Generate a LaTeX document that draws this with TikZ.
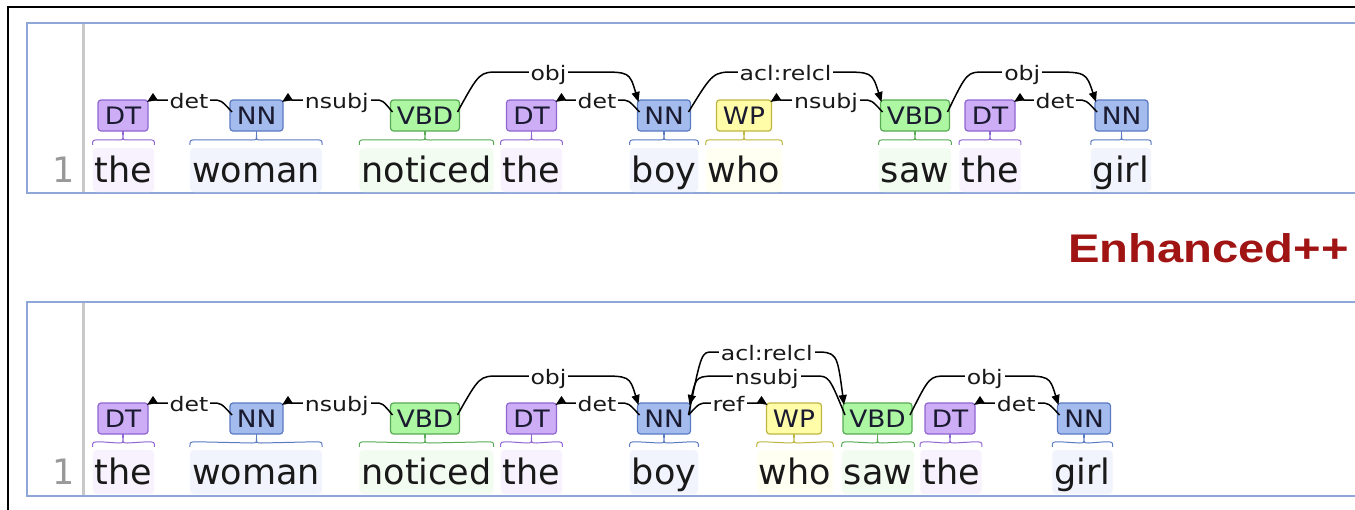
\documentclass[tikz,border=0pt]{standalone}
\usepackage{fontspec}
\setmainfont{DejaVu Sans}
\newfontfamily\titlefam{Liberation Sans}
\usepackage{graphicx}
\usetikzlibrary{calc,arrows.meta}

% part-of-speech colours
\definecolor{dtfill}{HTML}{CCADF6}\definecolor{dtline}{HTML}{9066D2}\definecolor{dtbg}{HTML}{F7F2FD}
\definecolor{nnfill}{HTML}{A4BCED}\definecolor{nnline}{HTML}{5A7AC2}\definecolor{nnbg}{HTML}{F1F4FC}
\definecolor{vbfill}{HTML}{ADF6A2}\definecolor{vbline}{HTML}{58AA55}\definecolor{vbbg}{HTML}{F3FCF1}
\definecolor{wpfill}{HTML}{FFFDA8}\definecolor{wpline}{HTML}{BDB640}\definecolor{wpbg}{HTML}{FFFFF2}
\definecolor{tagtext}{HTML}{1A1A30}
\definecolor{panelline}{HTML}{8EA6D8}
\definecolor{gutter}{HTML}{C8C8C8}
\definecolor{titlered}{HTML}{A01414}

\newcommand{\wordfont}{\fontsize{35}{40}\selectfont}
\newcommand{\tagfont}{\fontsize{24}{27}\selectfont}
\newcommand{\labfont}{\fontsize{20}{23}\selectfont}
\newcommand{\tg}[1]{\scalebox{1.1}[1]{#1}}
\newcommand{\lbl}[1]{\scalebox{1.18}[1]{#1}}

% dependency arc, dependent to the right of the head
% #1 head, #2 dependent, #3 level, #4 head bend, #5 dependent bend, #6 label, #7 label name
\newcommand{\arcR}[7]{%
  \draw[deparc] ($(#1.north east)+(-2,12)$)
     .. controls ($(#1.north east)+({0.5*#4},#3)$) .. ($(#1.north east)+(#4,#3)$)
     -- ($(#2.north west)+(-#5,#3)$)
     .. controls ($(#2.north west)+({-0.2*#5},#3)$) .. ($(#2.north west)+(1,2)$);
  \node[deplab] (#7) at ($(#1.north east)!0.5!(#2.north west)+(0,#3+8)$) {\lbl{#6}};
}
% dependency arc, dependent to the left of the head
\newcommand{\arcL}[7]{%
  \draw[deparc] ($(#1.north west)+(2,12)$)
     .. controls ($(#1.north west)+({-0.5*#4},#3)$) .. ($(#1.north west)+(-#4,#3)$)
     -- ($(#2.north east)+(#5,#3)$)
     .. controls ($(#2.north east)+({0.2*#5},#3)$) .. ($(#2.north east)+(-1,2)$);
  \node[deplab] (#7) at ($(#2.north east)!0.5!(#1.north west)+(0,#3+8)$) {\lbl{#6}};
}
% curly bracket joining a word to its tag
\newcommand{\wbrace}[3]{%
  \draw[#3, line width=1pt]
     ($(#1.north west)+(0,-3)$) .. controls ($(#1.north west)+(0,-8)$) .. ($(#1.north west)+(8,-8)$)
     -- ($(#2.south)+(-5,9)$) .. controls ($(#2.south)+(0,9)$) .. ($(#2.south)+(0,4)$)
     .. controls ($(#2.south)+(0,9)$) .. ($(#2.south)+(5,9)$)
     -- ($(#1.north east)+(-8,-8)$) .. controls ($(#1.north east)+(0,-8)$) .. ($(#1.north east)+(0,-3)$);
  \draw[#3, line width=1.2pt] ($(#2.south)+(0,4)$) -- (#2.south);
}

\tikzset{
  tagbox/.style={rectangle, rounded corners=3pt, minimum height=31pt, inner sep=0pt,
    outer sep=0pt, line width=1.2pt, font=\tagfont, text=tagtext},
  tagDT/.style={tagbox, fill=dtfill, draw=dtline, minimum width=50pt},
  tagNN/.style={tagbox, fill=nnfill, draw=nnline, minimum width=53pt},
  tagVB/.style={tagbox, fill=vbfill, draw=vbline, minimum width=69pt},
  tagWP/.style={tagbox, fill=wpfill, draw=wpline, minimum width=55pt},
  word/.style={anchor=base, font=\wordfont, text=black!90, inner xsep=2pt, inner ysep=3pt,
    text height=31pt, text depth=7pt, rounded corners=4pt},
  wDT/.style={word, fill=dtbg}, wNN/.style={word, fill=nnbg},
  wVB/.style={word, fill=vbbg}, wWP/.style={word, fill=wpbg},
  deparc/.style={black, line width=1.5pt, -{Triangle[length=10pt,width=8pt]}},
  deplab/.style={anchor=base, font=\labfont, text=black!90, fill=white, inner xsep=2pt, inner ysep=1pt},
  linenum/.style={anchor=base east, font=\wordfont, text=black!40, inner sep=0pt},
  panel/.style={draw=panelline, line width=1.5pt, fill=white},
}

\begin{document}
\begin{tikzpicture}[x=1pt, y=-1pt]
\useasboundingbox (0,0) rectangle (1355,509);
\clip (0,0) rectangle (1355,509);
\fill[white] (0,0) rectangle (1355,509);

% window frame
\draw[black, line width=2pt] (8,520) -- (8,7) -- (1370,7);

% sentence panels with line-number gutters
\draw[panel] (27,23) rectangle (1375,193);
\draw[gutter, line width=3pt] (83,24) -- (83,192);
\draw[panel] (27,302) rectangle (1375,496);
\draw[gutter, line width=3pt] (83,303) -- (83,495);

\node[linenum] (n1) at (75,182) {1};
\node[linenum] (n2) at (75,484) {1};

% heading
\node[anchor=base west, inner sep=0pt, text=titlered,
      font=\titlefam\fontsize{40}{48}\selectfont\bfseries] (title) at (1068,262) {\scalebox{1.18}[1]{Enhanced++}};

% ---------- basic dependencies ----------
\node[wDT] (u1) at (123.5,182) {the};
\node[wNN] (u2) at (256,182) {woman};
\node[wVB] (u3) at (426.5,182) {noticed};
\node[wDT] (u4) at (531.5,182) {the};
\node[wNN] (u5) at (664,182) {boy};
\node[wWP] (u6) at (744,182) {who};
\node[wVB] (u7) at (915,182) {saw};
\node[wDT] (u8) at (990,182) {the};
\node[wNN] (u9) at (1121,182) {girl};

\node[tagDT] (a1) at (123,115.5) {\tg{DT}};
\node[tagNN] (a2) at (256.5,115.5) {\tg{NN}};
\node[tagVB] (a3) at (425,115.5) {\tg{VBD}};
\node[tagDT] (a4) at (531.5,115.5) {\tg{DT}};
\node[tagNN] (a5) at (664,115.5) {\tg{NN}};
\node[tagWP] (a6) at (744,115.5) {\tg{WP}};
\node[tagVB] (a7) at (915,115.5) {\tg{VBD}};
\node[tagDT] (a8) at (990,115.5) {\tg{DT}};
\node[tagNN] (a9) at (1121.5,115.5) {\tg{NN}};

\wbrace{u1}{a1}{dtline}
\wbrace{u2}{a2}{nnline}
\wbrace{u3}{a3}{vbline}
\wbrace{u4}{a4}{dtline}
\wbrace{u5}{a5}{nnline}
\wbrace{u6}{a6}{wpline}
\wbrace{u7}{a7}{vbline}
\wbrace{u8}{a8}{dtline}
\wbrace{u9}{a9}{nnline}

\arcL{a2}{a1}{0}{18}{10}{det}{l1}
\arcL{a3}{a2}{0}{16}{10}{nsubj}{l2}
\arcR{a3}{a5}{-28}{40}{40}{obj}{l3}
\arcL{a5}{a4}{0}{18}{10}{det}{l4}
\arcR{a5}{a7}{-28}{45}{42}{acl:relcl}{l5}
\arcL{a7}{a6}{0}{18}{10}{nsubj}{l6}
\arcR{a7}{a9}{-28}{35}{45}{obj}{l7}
\arcL{a9}{a8}{0}{18}{10}{det}{l8}

% ---------- enhanced++ dependencies ----------
\node[wDT] (v1) at (123.5,484) {the};
\node[wNN] (v2) at (256,484) {woman};
\node[wVB] (v3) at (426.5,484) {noticed};
\node[wDT] (v4) at (531.5,484) {the};
\node[wNN] (v5) at (664,484) {boy};
\node[wWP] (v6) at (795,484) {who};
\node[wVB] (v7) at (878,484) {saw};
\node[wDT] (v8) at (951,484) {the};
\node[wNN] (v9) at (1082.5,484) {girl};

\node[tagDT] (b1) at (123,418.5) {\tg{DT}};
\node[tagNN] (b2) at (256.5,418.5) {\tg{NN}};
\node[tagVB] (b3) at (425,418.5) {\tg{VBD}};
\node[tagDT] (b4) at (531.5,418.5) {\tg{DT}};
\node[tagNN] (b5) at (664,418.5) {\tg{NN}};
\node[tagWP] (b6) at (794,418.5) {\tg{WP}};
\node[tagVB] (b7) at (877.5,418.5) {\tg{VBD}};
\node[tagDT] (b8) at (950,418.5) {\tg{DT}};
\node[tagNN] (b9) at (1084,418.5) {\tg{NN}};

\wbrace{v1}{b1}{dtline}
\wbrace{v2}{b2}{nnline}
\wbrace{v3}{b3}{vbline}
\wbrace{v4}{b4}{dtline}
\wbrace{v5}{b5}{nnline}
\wbrace{v6}{b6}{wpline}
\wbrace{v7}{b7}{vbline}
\wbrace{v8}{b8}{dtline}
\wbrace{v9}{b9}{nnline}

\arcL{b2}{b1}{0}{18}{10}{det}{m1}
\arcL{b3}{b2}{0}{16}{10}{nsubj}{m2}
\arcR{b3}{b5}{-27}{40}{40}{obj}{m3}
\arcL{b5}{b4}{0}{18}{10}{det}{m4}
\arcR{b5}{b6}{0}{18}{10}{ref}{m5}
\arcR{b5}{b7}{-51}{22}{30}{acl:relcl}{m6}
\arcL{b7}{b5}{-27}{28}{30}{nsubj}{m7}
\arcR{b7}{b9}{-27}{35}{40}{obj}{m8}
\arcL{b9}{b8}{0}{18}{10}{det}{m9}
\end{tikzpicture}
\end{document}
